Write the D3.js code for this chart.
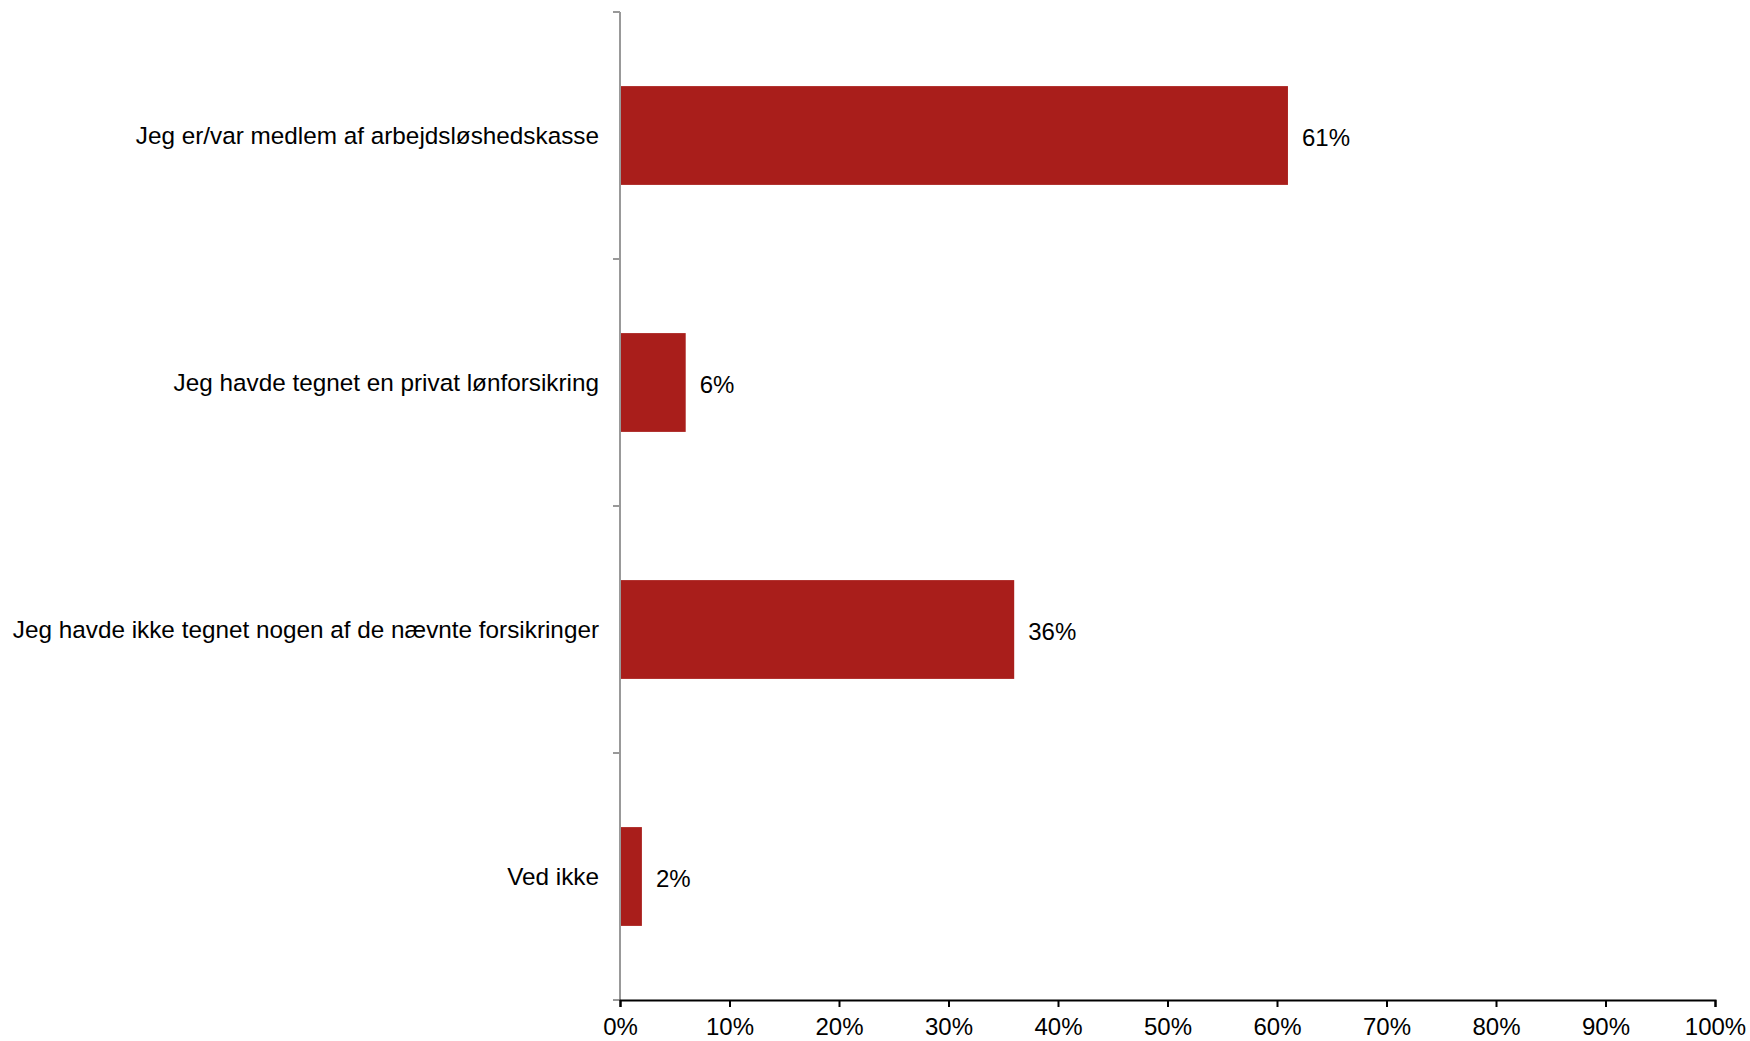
<!DOCTYPE html>
<html><head><meta charset="utf-8">
<script src="https://cdn.jsdelivr.net/npm/d3@7"></script>
<style>body{margin:0;background:#fff}svg{display:block}text{font-family:"Liberation Sans",Arial,sans-serif;fill:#000}</style>
</head><body>
<script>
const categories = ["Jeg er/var medlem af arbejdsløshedskasse","Jeg havde tegnet en privat lønforsikring","Jeg havde ikke tegnet nogen af de nævnte forsikringer","Ved ikke"];
const values = [61, 6, 36, 2];
const tickValues = [0,10,20,30,40,50,60,70,80,90,100];

const W=1750,H=1041;
const m={left:620,top:12,right:35,bottom:41};
const FS=24;
const svg=d3.select("body").append("svg").attr("width",W).attr("height",H);
const x=d3.scaleLinear().domain([0,100]).range([m.left,W-m.right]);
const y=d3.scaleBand().domain(categories).range([m.top,H-m.bottom]).paddingInner(0.6).paddingOuter(0.3);

svg.selectAll("rect.bar").data(values).join("rect").attr("class","bar")
  .attr("x",x(0)).attr("y",(d,i)=>y(categories[i]))
  .attr("width",d=>x(d)-x(0)).attr("height",y.bandwidth()).attr("fill","#A91E1B");

svg.selectAll("text.val").data(values).join("text").attr("class","val")
  .attr("x",d=>x(d)+14).attr("y",(d,i)=>y(categories[i])+y.bandwidth()/2+2)
  .attr("dy","0.35em").attr("font-size",FS).text(d=>d+"%");

// y axis
const step=(H-m.bottom-m.top)/categories.length;
const g=svg.append("g");
g.append("line").attr("x1",x(0)).attr("x2",x(0)).attr("y1",m.top).attr("y2",H-m.bottom).attr("stroke","#999").attr("stroke-width",2);
d3.range(categories.length+1).forEach(i=>{
  g.append("line").attr("x1",x(0)-7).attr("x2",x(0)).attr("y1",m.top+i*step).attr("y2",m.top+i*step).attr("stroke","#999").attr("stroke-width",2);
});
svg.selectAll("text.cat").data(categories).join("text").attr("class","cat")
  .attr("x",x(0)-21).attr("y",d=>y(d)+y.bandwidth()/2).attr("dy","0.35em")
  .attr("text-anchor","end").attr("font-size",24.3).text(d=>d);

// x axis
const xa=svg.append("g").attr("transform",`translate(0,${H-m.bottom})`)
  .call(d3.axisBottom(x).tickValues(tickValues).tickFormat(d=>d+"%").tickSize(7).tickPadding(11));
xa.select(".domain").attr("stroke","#000").attr("stroke-width",2);
xa.selectAll(".tick line").attr("stroke","#000").attr("stroke-width",2);
xa.selectAll(".tick text").attr("font-size",FS).attr("font-family","Liberation Sans, Arial, sans-serif").attr("fill","#000");
</script>
</body></html>
